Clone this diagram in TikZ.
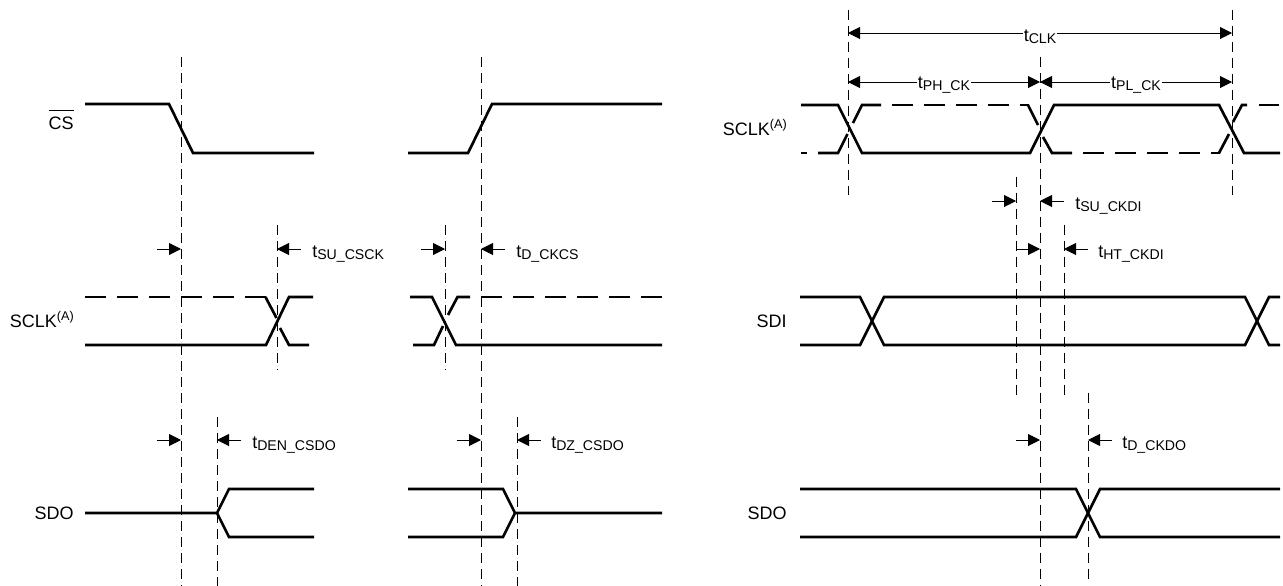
\documentclass[tikz,border=0pt]{standalone}
\usepackage{fontspec}
\setmainfont{Liberation Sans}
\usetikzlibrary{arrows.meta}
\tikzset{
	wave/.style={line width=2pt, line join=miter},
	wavedash/.style={wave, dash pattern=on 15.75pt off 8.25pt},
	guide/.style={line width=0.7pt, dash pattern=on 7.5pt off 4.5pt},
	dimline/.style={line width=0.75pt, -{Triangle[length=9pt,width=9pt]}},
	dimboth/.style={line width=0.75pt, {Triangle[length=9pt,width=9pt]}-{Triangle[length=9pt,width=9pt]}},
	sigtext/.style={anchor=base east, inner sep=0pt, font=\fontsize{13.5}{15}\selectfont},
	timetext/.style={anchor=base west, inner sep=0pt, font=\fontsize{13.5}{15}\selectfont},
	ontext/.style={anchor=base, fill=white, inner sep=0.5pt, font=\fontsize{13.5}{15}\selectfont}
}
\def\tsub#1{t\raisebox{-2pt}{\fontsize{10.6}{11}\selectfont #1}}
\def\sclkA{SCLK\raisebox{5pt}{\fontsize{9.5}{10}\selectfont (A)}}
\def\inarrows(#1:#2:#3){\draw[dimline] ({#1-24},#3) -- (#1,#3); \draw[dimline] ({#2+24},#3) -- (#2,#3);}

\begin{document}
\begin{tikzpicture}[x=0.75pt,y=-0.75pt]
	\useasboundingbox (0,0) rectangle (1283,586);

	% guide lines
	\foreach \x/\ya/\yb in {181/57/586, 481/57/586, 277/225/370, 445/225/370, 217/417/586, 517/417/586, 848/10/195, 1232/10/195, 1040/57/586, 1016/177/395, 1064/225/395, 1088/393/580}{
		\draw[guide] (\x,\ya) -- (\x,\yb);
	}

	% left panel, chip select
	\node[sigtext] (cslabel) at (74,129) {$\overline{\hbox{\rule{0pt}{12.5pt}CS}}$};
	\draw[wave] (85,104) -- (169,104) -- (193,153) -- (314,153);
	\draw[wave] (408,153) -- (468,153) -- (492,104) -- (662,104);

	% left panel, clock
	\node[sigtext] (sclkleft) at (74,327) {\sclkA};
	\draw[wavedash] (85,297) -- (266,297);
	\draw[wave] (265.5,297) -- (276.5,318);
	\draw[wave] (280,328) -- (289,345) -- (309,345);
	\draw[wave] (85,345) -- (266,345) -- (289,297) -- (313,297);
	\draw[wave] (410,297) -- (432,297) -- (456,345) -- (662,345);
	\draw[wave] (413,345) -- (434,345) -- (443,326);
	\draw[wave] (448,315) -- (457.5,297) -- (470,297);
	\draw[wavedash] (481,297) -- (662,297);
	\inarrows(181:277:249)
	\node[timetext] (tsucsck) at (312,257) {\tsub{SU\_CSCK}};
	\inarrows(445:481:249)
	\node[timetext] (tdckcs) at (516,257) {\tsub{D\_CKCS}};

	% left panel, data out
	\node[sigtext] (sdoleft) at (74,519) {SDO};
	\draw[wave] (85,513) -- (217,513) -- (229,489) -- (314,489);
	\draw[wave] (217,513) -- (229,537) -- (314,537);
	\draw[wave] (408,489) -- (503,489) -- (515,513) -- (662,513);
	\draw[wave] (408,537) -- (503,537) -- (515,513);
	\inarrows(181:217:440)
	\node[timetext] (tdencsdo) at (252,448) {\tsub{DEN\_CSDO}};
	\inarrows(481:517:440)
	\node[timetext] (tdzcsdo) at (551,448) {\tsub{DZ\_CSDO}};

	% right panel, clock
	\node[sigtext] (sclkright) at (787,135) {\sclkA};
	\draw[wave] (801,105) -- (838,105) -- (862,153) -- (1030,153) -- (1054,105) -- (1219,105) -- (1244,153) -- (1280,153);
	\draw[wave] (801,153) -- (807,153);
	\draw[wave] (818,153) -- (838,153) -- (847.5,134);
	\draw[wave] (853,123) -- (862,105) -- (881,105);
	\draw[wavedash] (892,105) -- (1029,105);
	\draw[wave] (1028,105) -- (1038,125);
	\draw[wave] (1043,137) -- (1052,153) -- (1072,153);
	\draw[wavedash] (1083,153) -- (1220,153);
	\draw[wave] (1219,153) -- (1229,134);
	\draw[wave] (1233,122) -- (1242,105) -- (1247,105);
	\draw[wave] (1259,105) -- (1279,105);
	\coordinate (clka) at (848,33);
	\coordinate (clkb) at (1232,33);
	\coordinate (pha) at (848,82);
	\coordinate (phb) at (1040,82);
	\coordinate (plb) at (1232,82);
	\draw[dimboth] (clka) -- node[ontext, yshift=-6pt] (tclk) {\tsub{CLK}} (clkb);
	\draw[dimboth] (pha) -- node[ontext, yshift=-4.5pt] (tphck) {\tsub{PH\_CK}} (phb);
	\draw[dimboth] (phb) -- node[ontext, yshift=-4.5pt] (tplck) {\tsub{PL\_CK}} (plb);

	% right panel, data in
	\node[sigtext] (sdilabel) at (787,327) {SDI};
	\draw[wave] (800,297) -- (860,297) -- (884,345) -- (1245,345) -- (1269,297) -- (1280,297);
	\draw[wave] (800,345) -- (860,345) -- (884,297) -- (1245,297) -- (1269,345) -- (1280,345);
	\inarrows(1016:1040:201)
	\node[timetext] (tsuckdi) at (1075,209) {\tsub{SU\_CKDI}};
	\inarrows(1040:1064:249)
	\node[timetext] (thtckdi) at (1098,257) {\tsub{HT\_CKDI}};

	% right panel, data out
	\node[sigtext] (sdoright) at (787,519) {SDO};
	\draw[wave] (800,489) -- (1076,489) -- (1100,537) -- (1280,537);
	\draw[wave] (800,537) -- (1076,537) -- (1100,489) -- (1280,489);
	\inarrows(1040:1088:440)
	\node[timetext] (tdckdo) at (1122,448) {\tsub{D\_CKDO}};
\end{tikzpicture}
\end{document}
